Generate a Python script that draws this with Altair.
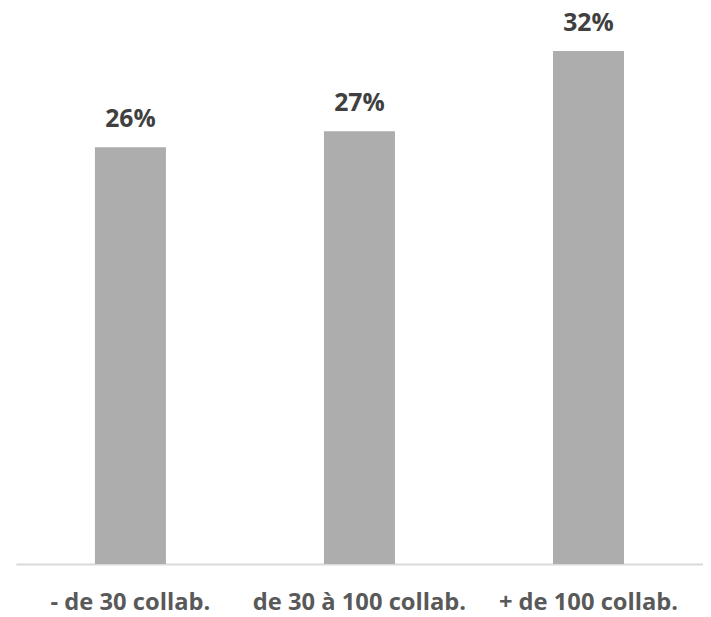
import altair as alt
import pandas as pd

categories = ["- de 30 collab.", "de 30 à 100 collab.", "+ de 100 collab."]
values = [26, 27, 32]
labels = ["26%", "27%", "32%"]

df = pd.DataFrame({"cat": categories, "val": values, "lab": labels})

x = alt.X("cat:N", sort=categories, title=None,
          scale=alt.Scale(paddingInner=0.69, paddingOuter=0.345),
          axis=alt.Axis(labelAngle=0, ticks=False, labelFontSize=24, labelFontWeight="bold",
                        labelColor="#595959", labelFont="Open Sans", labelPadding=46,
                        labelLimit=0, labelBaseline="alphabetic",
                        domainColor="#D9D9D9", domainWidth=2, grid=False))
y = alt.Y("val:Q", scale=alt.Scale(domain=[0, 32], nice=False), axis=None)

bars = alt.Chart(df).mark_bar(color="#ADADAD").encode(x=x, y=y)
text = alt.Chart(df).mark_text(baseline="alphabetic", dy=-20, fontSize=25, fontWeight="bold",
                               font="Open Sans", color="#404040").encode(
    x=alt.X("cat:N", sort=categories), y="val:Q", text="lab:N")

chart = (bars + text).properties(
    width=695, height=519,
    padding={"top": 40, "left": 8, "right": 0, "bottom": 50},
    autosize=alt.AutoSizeParams(type="none"),
    background="white",
).configure_view(stroke=None)

chart.save("out.html", embed_options={"renderer": "svg", "actions": False})
